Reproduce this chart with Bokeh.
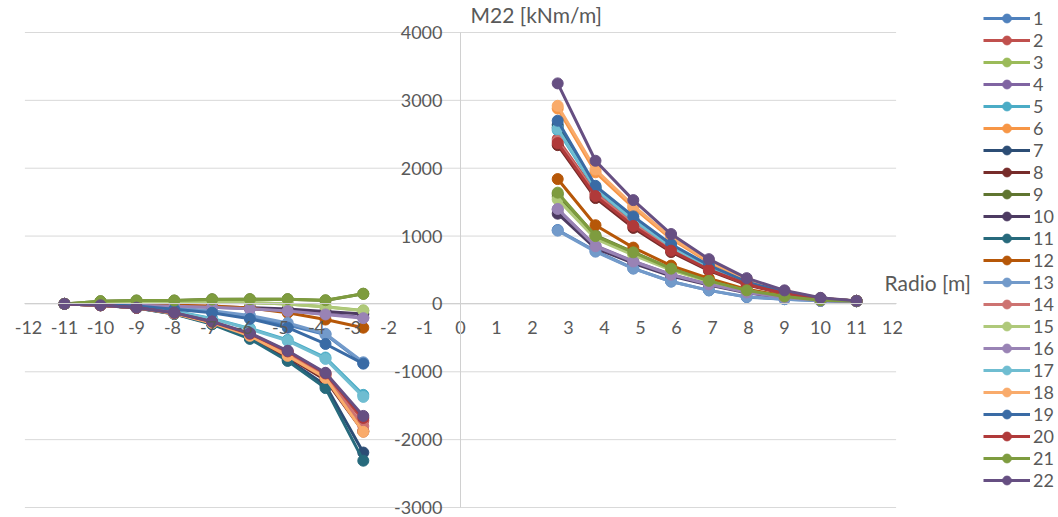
import math
from bokeh.plotting import figure
from bokeh.models import Range1d, Legend, LegendItem, Label, FixedTicker
from bokeh.embed import file_html
from bokeh.resources import INLINE

# Radial positions [m]: left side (negative) then right side (positive)
radio = [-11, -10, -9, -7.95, -6.9, -5.85, -4.8, -3.75, -2.7,
         2.7, 3.75, 4.8, 5.85, 6.9, 7.95, 9.0, 10.0, 11.0]

# M22 [kNm/m] per series: 9 left values then 9 right values
m22_01 = [0, -10, -28, -70, -115, -195, -310, -450, -870, 1090, 780, 525, 330, 200, 100, 70, 45, 40]
m22_02 = [0, -18, -55, -135, -265, -445, -715, -1040, -1720, 2430, 1640, 1190, 810, 520, 300, 158, 75, 45]
m22_03 = [0, 20, 30, 30, 30, 20, 0, -40, -95, 1580, 980, 740, 510, 335, 197, 108, 55, 42]
m22_04 = [0, -10, -20, -35, -50, -70, -100, -150, -200, 1390, 860, 630, 435, 290, 172, 95, 50, 40]
m22_05 = [0, -15, -45, -108, -215, -360, -530, -790, -1340, 2560, 1690, 1230, 840, 540, 312, 163, 78, 45]
m22_06 = [0, -20, -55, -140, -280, -475, -770, -1100, -1870, 2880, 1940, 1420, 960, 615, 355, 185, 85, 45]
m22_07 = [0, -20, -60, -145, -290, -500, -820, -1200, -2190, 2640, 1700, 1260, 860, 555, 320, 168, 80, 45]
m22_08 = [0, -20, -58, -142, -285, -480, -780, -1120, -1880, 2340, 1560, 1120, 765, 490, 282, 150, 72, 45]
m22_09 = [0, 40, 50, 50, 70, 70, 70, 50, 150, 1620, 1010, 765, 520, 345, 200, 112, 57, 42]
m22_10 = [0, -10, -20, -30, -40, -55, -75, -110, -150, 1330, 820, 600, 410, 280, 165, 90, 50, 40]
m22_11 = [0, -20, -60, -150, -300, -515, -840, -1240, -2310, 2600, 1720, 1250, 850, 545, 315, 165, 78, 45]
m22_12 = [0, -5, -10, -20, -30, -60, -130, -230, -350, 1840, 1160, 830, 565, 375, 215, 120, 60, 42]
m22_13 = [0, -8, -25, -60, -100, -170, -280, -440, -860, 1080, 770, 520, 330, 200, 105, 70, 45, 40]
m22_14 = [0, -18, -55, -135, -270, -455, -735, -1060, -1800, 2400, 1620, 1180, 800, 515, 298, 157, 75, 45]
m22_15 = [0, 20, 30, 30, 30, 20, 0, -45, -100, 1540, 960, 720, 500, 330, 195, 105, 55, 42]
m22_16 = [0, -10, -20, -35, -50, -72, -105, -155, -210, 1400, 850, 625, 430, 288, 170, 95, 50, 40]
m22_17 = [0, -15, -45, -110, -220, -370, -545, -810, -1370, 2580, 1700, 1240, 845, 540, 312, 163, 78, 45]
m22_18 = [0, -20, -55, -140, -280, -470, -765, -1090, -1885, 2920, 1980, 1450, 980, 630, 365, 190, 85, 45]
m22_19 = [0, -10, -30, -80, -130, -220, -350, -590, -880, 2700, 1740, 1290, 880, 570, 325, 170, 80, 45]
m22_20 = [0, -18, -55, -132, -262, -440, -700, -1025, -1680, 2370, 1590, 1150, 785, 505, 290, 153, 73, 45]
m22_21 = [0, 40, 50, 50, 65, 70, 70, 55, 150, 1640, 1000, 760, 520, 340, 200, 110, 55, 42]
m22_22 = [0, -20, -55, -130, -260, -430, -690, -1015, -1650, 3250, 2110, 1530, 1030, 660, 380, 200, 90, 45]

series = [m22_01, m22_02, m22_03, m22_04, m22_05, m22_06, m22_07, m22_08, m22_09, m22_10, m22_11,
          m22_12, m22_13, m22_14, m22_15, m22_16, m22_17, m22_18, m22_19, m22_20, m22_21, m22_22]
names = [str(i) for i in range(1, 23)]

colors = ["#4F81BD", "#C0504D", "#9BBB59", "#8064A2", "#4BACC6", "#F79646",
          "#2C4D75", "#772C2A", "#5F7530", "#4D3B62", "#276A7C", "#B65708",
          "#729ACA", "#CD7371", "#AFC97A", "#9983B5", "#6FBDD1", "#F9AB6B",
          "#3A6BA5", "#B03A3A", "#7E9C3F", "#664F82"]

x_ticks = list(range(-12, 13))
y_ticks = [-3000, -2000, -1000, 0, 1000, 2000, 3000, 4000]
x_lim = (-12.1, 12.1)
y_lim = (-3000, 4000)

FONT = "Lato"
TXT = "#595959"
W, H = 1058, 517

# frame covers the whole canvas; ranges chosen so the -12..12 / -3000..4000 box sits inside
p = figure(width=W, height=H, output_backend="svg", toolbar_location=None,
           x_range=Range1d(-460 / 36.0, (W - 460) / 36.0),
           y_range=Range1d(-3000 - 10 * 7000 / 475.0, 4000 + 32 * 7000 / 475.0),
           min_border_left=0, min_border_right=0, min_border_top=0, min_border_bottom=0)
p.outline_line_color = None
p.background_fill_color = "white"
p.xgrid.visible = False
p.ygrid.visible = False

# horizontal gridlines limited to the plot box
p.segment(x0=[x_lim[0]] * len(y_ticks), x1=[x_lim[1]] * len(y_ticks), y0=y_ticks, y1=y_ticks,
          line_color="#D9D9D9", line_width=1)

p.xaxis.ticker = FixedTicker(ticks=x_ticks)
p.yaxis.ticker = FixedTicker(ticks=y_ticks)
p.xaxis.major_label_overrides = {t: str(t) for t in x_ticks}
p.yaxis.major_label_overrides = {t: str(t) for t in y_ticks}
p.xaxis.fixed_location = 0
p.yaxis.fixed_location = 0
p.xaxis.bounds = x_lim
p.yaxis.bounds = y_lim
for ax in (p.xaxis, p.yaxis):
    ax.axis_line_color = "#D0D0D0"
    ax.axis_line_width = 1
    ax.major_tick_line_color = None
    ax.minor_tick_line_color = None
    ax.major_label_text_color = TXT
    ax.major_label_text_font = FONT
    ax.major_label_text_font_size = "18px"
p.xaxis.major_label_standoff = 11
p.yaxis.major_label_standoff = 12

items = []
xs_gap = radio[:9] + [math.nan] + radio[9:]
for name, vals, c in zip(names, series, colors):
    ys_gap = vals[:9] + [math.nan] + vals[9:]
    lr = p.line(xs_gap, ys_gap, line_width=3, line_color=c)
    sr = p.scatter(radio, vals, size=11, fill_color=c, line_color=c, line_width=1)
    items.append(LegendItem(label=name, renderers=[lr, sr]))

legend = Legend(items=items, location=(983, 26), orientation="vertical",
                glyph_width=47, glyph_height=22, label_height=22, spacing=0,
                padding=0, margin=0, label_standoff=3,
                label_text_font=FONT, label_text_font_size="18px", label_text_color=TXT,
                border_line_color=None, background_fill_alpha=0)
p.add_layout(legend, "center")

p.add_layout(Label(x=0, y=4000, x_units="data", y_units="data", text="M22 [kNm/m]",
                   x_offset=10, y_offset=18, text_baseline="middle", text_align="left",
                   text_font=FONT, text_font_size="21px", text_color=TXT))
p.add_layout(Label(x=11.78, y=0, x_units="data", y_units="data", text="Radio [m]",
                   y_offset=21, text_baseline="middle", text_align="left",
                   text_font=FONT, text_font_size="21px", text_color=TXT))

open("out.html", "w").write(file_html(p, INLINE))
